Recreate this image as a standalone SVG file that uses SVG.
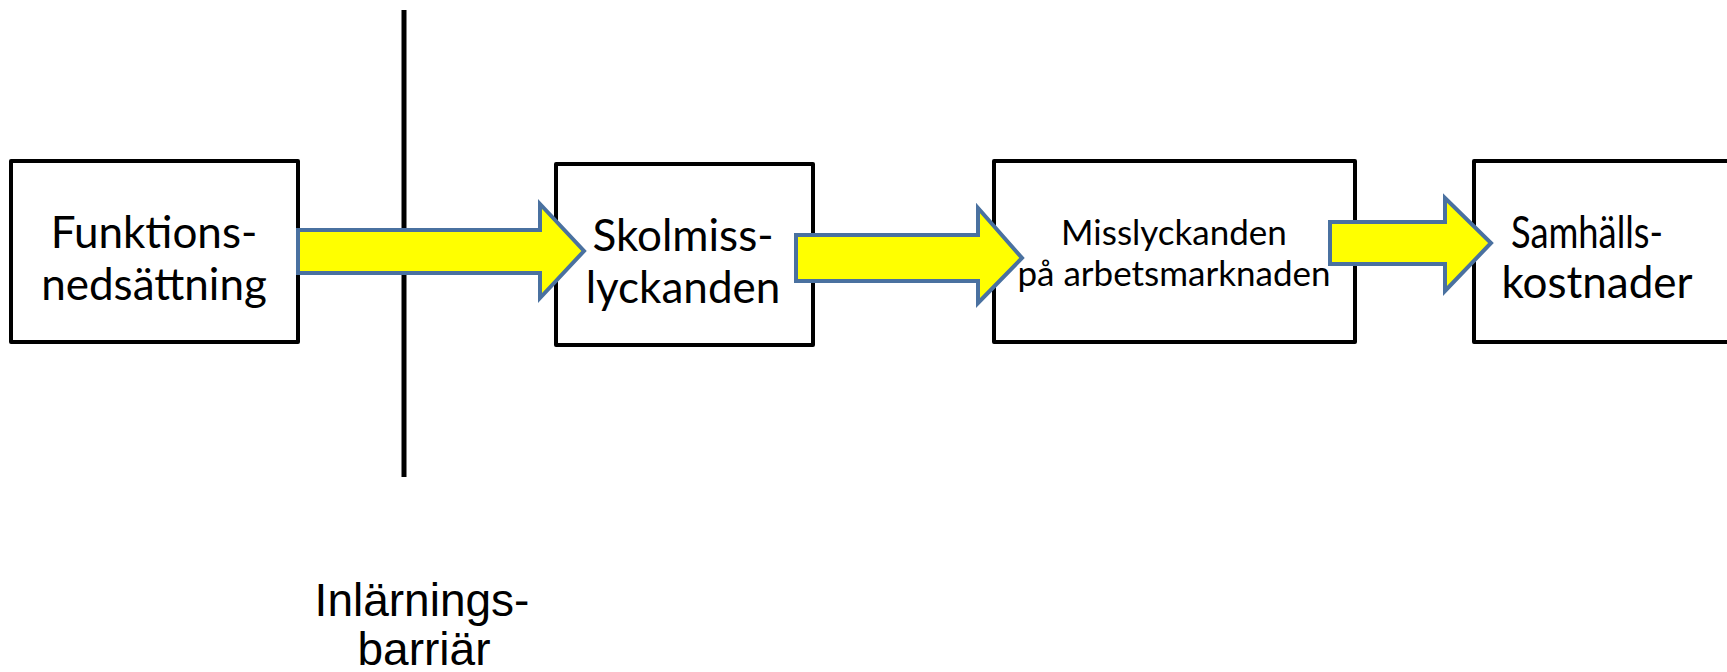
<svg xmlns="http://www.w3.org/2000/svg" width="1727" height="672" viewBox="0 0 1727 672">
<style>
.box{fill:#fff;stroke:#000;stroke-width:4;stroke-linejoin:round}
.arr{fill:#ffff00;stroke:#4a71a0;stroke-width:4;stroke-linejoin:miter}
.t{font-family:Lato,"Open Sans",sans-serif;font-size:44px;fill:#000;text-anchor:middle}
.ts{font-family:Lato,"Open Sans",sans-serif;font-size:35px;fill:#000;text-anchor:middle}
.ta{font-family:"Liberation Sans",Arial,sans-serif;font-size:46px;fill:#000;text-anchor:middle}
</style>
<rect width="1727" height="672" fill="#fff"/>
<g id="barrier">
<line x1="404" y1="10" x2="404" y2="477" stroke="#000" stroke-width="5"/>
<text class="ta" x="422" y="616">Inlärnings-</text>
<text class="ta" x="424" y="665">barriär</text>
</g>
<g id="node1">
<rect class="box" x="11" y="161" width="287" height="181"/>
<text class="t" x="154" y="248">Funktions-</text>
<text class="t" x="154" y="300">nedsättning</text>
</g>
<g id="node2">
<rect class="box" x="556" y="164" width="257" height="181"/>
<text class="t" x="683" y="251">Skolmiss-</text>
<text class="t" x="683" y="303">lyckanden</text>
</g>
<g id="node3">
<rect class="box" x="994" y="161" width="361" height="181"/>
<text class="ts" x="1174" y="245">Misslyckanden</text>
<text class="ts" x="1174" y="286">på arbetsmarknaden</text>
</g>
<g id="node4">
<rect class="box" x="1474" y="161" width="270" height="181"/>
<text class="t" x="1587" y="248" textLength="152" lengthAdjust="spacingAndGlyphs">Samhälls-</text>
<text class="t" x="1597" y="298">kostnader</text>
</g>
<g id="connectors">
<polygon class="arr" points="298,230 540,230 540,204 584,251 540,298 540,273 298,273"/>
<polygon class="arr" points="796,235 978,235 978,208 1022,258 978,303 978,281 796,281"/>
<polygon class="arr" points="1330,222 1445,222 1445,198 1491,243 1445,291 1445,264 1330,264"/>
</g>
</svg>
